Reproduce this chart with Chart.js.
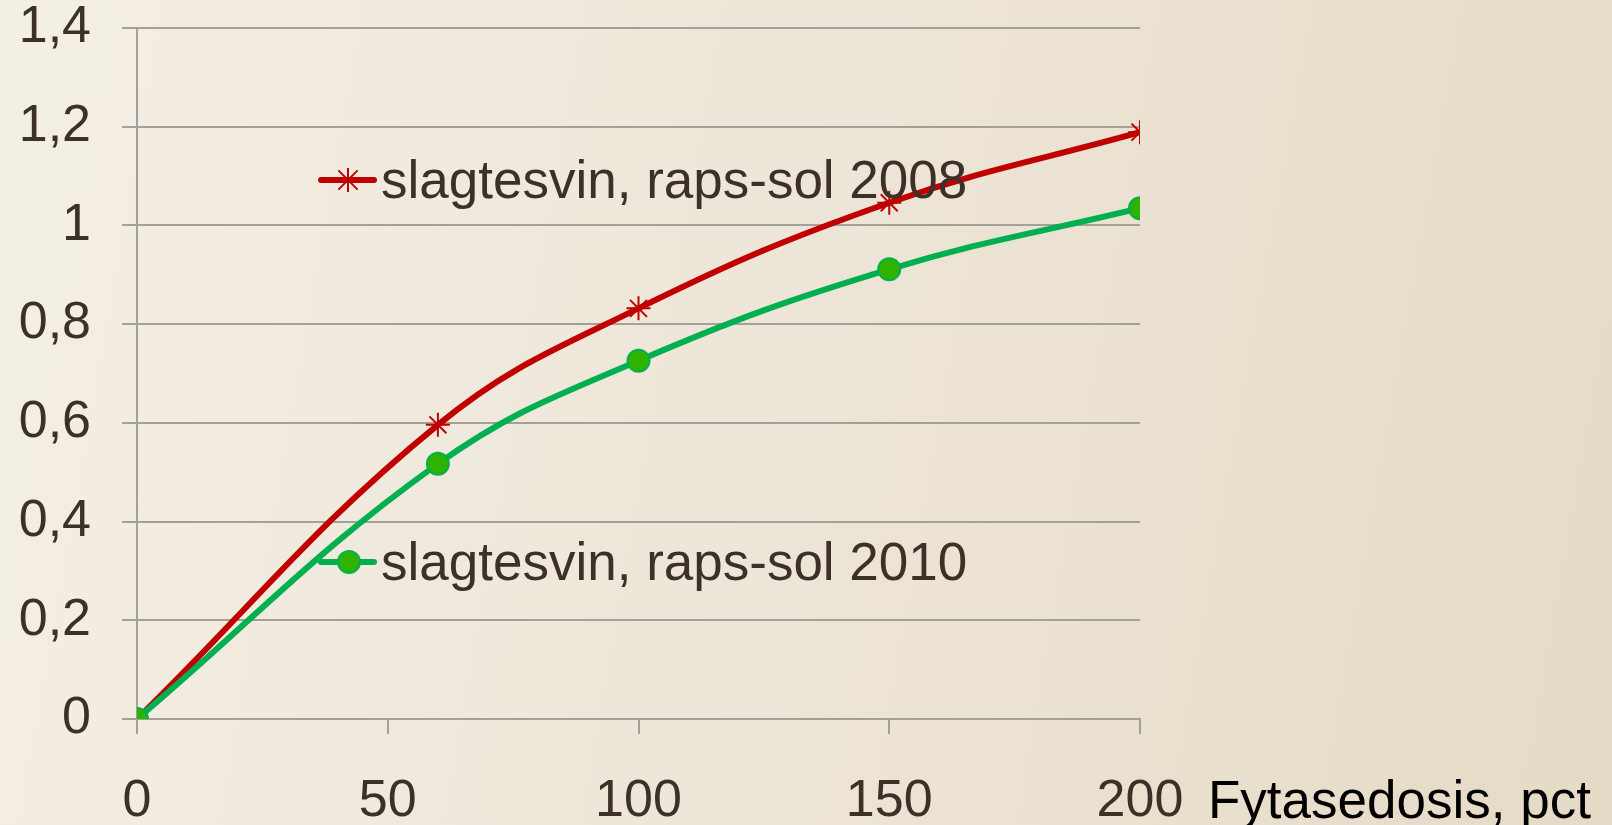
<!DOCTYPE html>
<html>
<head>
<meta charset="utf-8">
<script src="https://cdn.jsdelivr.net/npm/chart.js@4.4.0/dist/chart.umd.min.js"></script>
<style>
  html, body { margin: 0; padding: 0; }
  body {
    width: 1612px; height: 825px; overflow: hidden;
    background: linear-gradient(100deg, #f4efe5 0%, #ede5d7 50%, #e5dac5 100%);
  }
  #wrap { width: 1612px; height: 825px; }
</style>
</head>
<body>
<div id="wrap"><canvas id="fytaseChart"></canvas></div>
<script>
// dose of phytase (pct) and response per series
const doses = [0, 60, 100, 150, 200];
const series2008 = [0, 0.596, 0.832, 1.046, 1.189];
const series2010 = [0, 0.517, 0.726, 0.911, 1.035];
const seriesNames = ['slagtesvin, raps-sol 2008', 'slagtesvin, raps-sol 2010'];
const xTicks = [0, 50, 100, 150, 200];
const yTicks = [0, 0.2, 0.4, 0.6, 0.8, 1, 1.2, 1.4];
const xTitle = 'Fytasedosis, pct';

const red = '#c00000';
const green = '#00b050';
const dotFill = '#2db300';
const textColor = '#3b3129';
const gridColor = '#a3a09a';
const fontFamily = '"Liberation Sans", Arial, sans-serif';

function toPoints(ys) {
    return doses.map((d, i) => ({ x: d, y: ys[i] }));
}

// draws the inline legend entries and the x axis title
const labelsPlugin = {
    id: 'labelsPlugin',
    afterDraw(chart) {
        const ctx = chart.ctx;
        ctx.save();
        ctx.font = '53px ' + fontFamily;
        ctx.textBaseline = 'alphabetic';
        ctx.textAlign = 'left';

        // 2008 entry
        ctx.strokeStyle = red;
        ctx.lineWidth = 6;
        ctx.lineCap = 'round';
        ctx.beginPath();
        ctx.moveTo(321, 180);
        ctx.lineTo(374, 180);
        ctx.stroke();
        ctx.lineWidth = 2;
        ctx.lineCap = 'butt';
        ctx.beginPath();
        const r = 12;
        ctx.moveTo(348, 180 - r); ctx.lineTo(348, 180 + r);
        ctx.moveTo(348 - r * 0.8, 180 - r * 0.8); ctx.lineTo(348 + r * 0.8, 180 + r * 0.8);
        ctx.moveTo(348 - r * 0.8, 180 + r * 0.8); ctx.lineTo(348 + r * 0.8, 180 - r * 0.8);
        ctx.stroke();
        ctx.fillStyle = textColor;
        ctx.fillText(seriesNames[0], 381, 198);

        // 2010 entry
        ctx.strokeStyle = green;
        ctx.lineWidth = 6;
        ctx.lineCap = 'round';
        ctx.beginPath();
        ctx.moveTo(321, 562);
        ctx.lineTo(374, 562);
        ctx.stroke();
        ctx.beginPath();
        ctx.arc(349, 562, 11, 0, Math.PI * 2);
        ctx.fillStyle = dotFill;
        ctx.fill();
        ctx.lineWidth = 2;
        ctx.stroke();
        ctx.fillStyle = textColor;
        ctx.fillText(seriesNames[1], 381, 580);

        // x axis title
        ctx.fillStyle = '#000000';
        ctx.font = '53px ' + fontFamily;
        ctx.fillText(xTitle, 1208, 818);
        ctx.restore();
    }
};

document.addEventListener('DOMContentLoaded', function() {
    const ctx = document.getElementById('fytaseChart').getContext('2d');
    new Chart(ctx, {
        type: 'line',
        data: {
            datasets: [{
                label: seriesNames[0],
                data: toPoints(series2008),
                order: 1,
                borderColor: red,
                borderWidth: 6,
                tension: 0.4,
                pointStyle: 'star',
                pointRadius: 12,
                pointBorderWidth: 2,
                pointBorderColor: red,
                pointBackgroundColor: red
            }, {
                label: seriesNames[1],
                data: toPoints(series2010),
                order: 0,
                borderColor: green,
                borderWidth: 6,
                tension: 0.4,
                pointStyle: 'circle',
                pointRadius: 11,
                pointBorderWidth: 2,
                pointBorderColor: green,
                pointBackgroundColor: dotFill
            }]
        },
        options: {
            responsive: true,
            maintainAspectRatio: false,
            animation: false,
            layout: { padding: { top: 28, right: 472, left: 0, bottom: 0 } },
            plugins: {
                legend: { display: false },
                tooltip: { enabled: false }
            },
            scales: {
                x: {
                    type: 'linear',
                    min: 0,
                    max: 200,
                    afterFit: s => {
                        s.height = 106;
                        s.paddingLeft = 0;
                        s.paddingRight = 0;
                    },
                    afterBuildTicks: s => { s.ticks = xTicks.map(v => ({ value: v })); },
                    grid: {
                        drawOnChartArea: false,
                        drawTicks: true,
                        tickLength: 15,
                        color: gridColor,
                        lineWidth: 2
                    },
                    border: { display: true, color: gridColor, width: 2 },
                    ticks: {
                        padding: 36,
                        color: textColor,
                        maxRotation: 0,
                        font: { size: 52, family: fontFamily }
                    }
                },
                y: {
                    min: 0,
                    max: 1.4,
                    afterFit: s => {
                        s.width = 137;
                        s.paddingTop = 0;
                        s.paddingBottom = 0;
                    },
                    afterBuildTicks: s => { s.ticks = yTicks.map(v => ({ value: v })); },
                    grid: {
                        drawOnChartArea: true,
                        drawTicks: true,
                        tickLength: 15,
                        color: gridColor,
                        lineWidth: 2
                    },
                    border: { display: true, color: gridColor, width: 2 },
                    ticks: {
                        padding: 31,
                        color: textColor,
                        font: { size: 52, family: fontFamily },
                        callback: v => String(Math.round(v * 10) / 10).replace('.', ',')
                    }
                }
            }
        },
        plugins: [labelsPlugin]
    });
});
</script>
</body>
</html>
